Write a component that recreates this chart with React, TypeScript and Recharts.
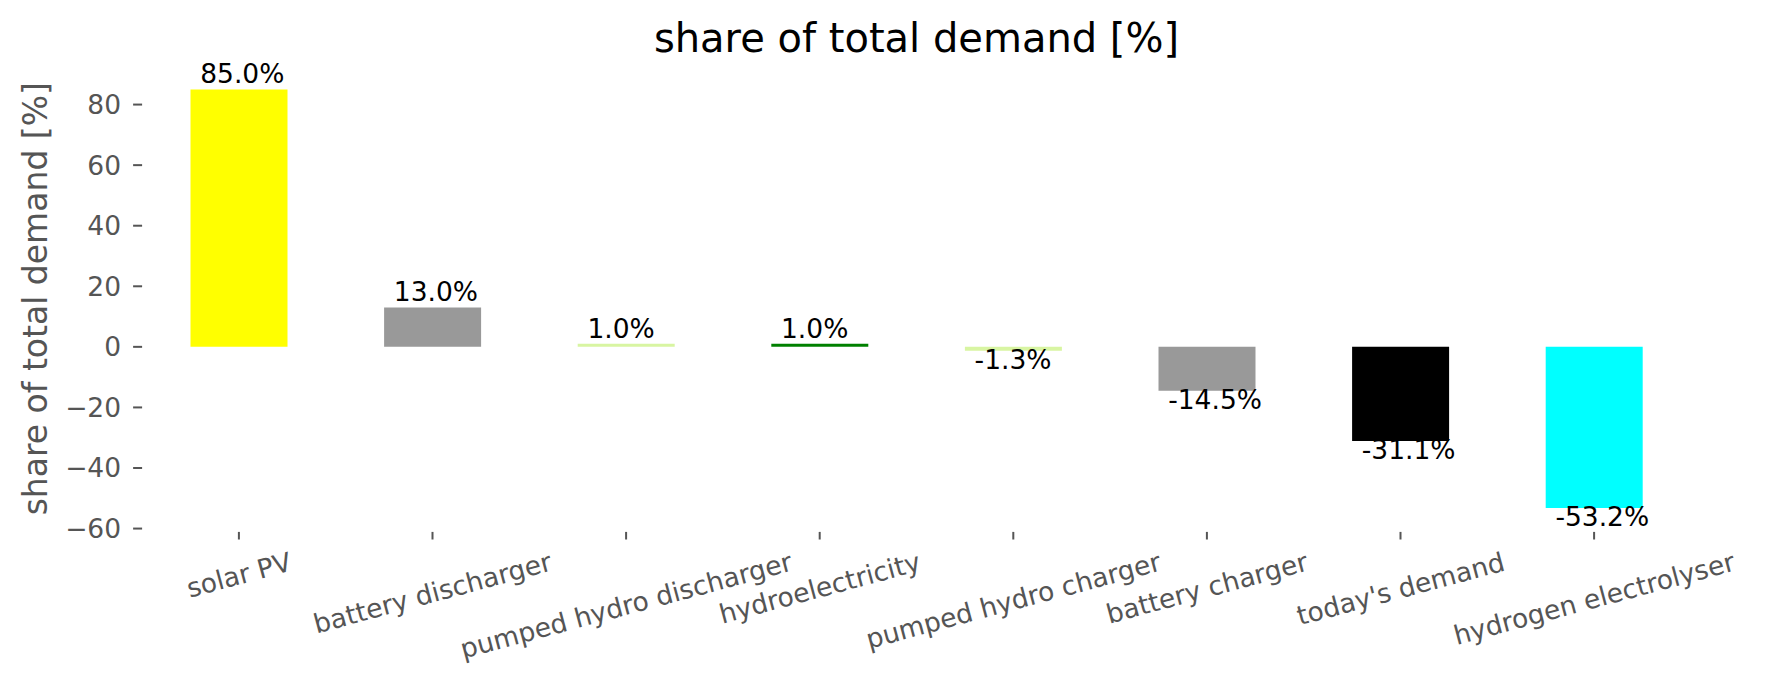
import { BarChart, Bar, XAxis, YAxis, Cell, LabelList } from "recharts";

const categories = [
  "solar PV",
  "battery discharger",
  "pumped hydro discharger",
  "hydroelectricity",
  "pumped hydro charger",
  "battery charger",
  "today's demand",
  "hydrogen electrolyser",
];
const shares = [85.0, 13.0, 1.0, 1.0, -1.3, -14.5, -31.1, -53.2];
const barColors = [
  "#ffff00",
  "#999999",
  "#d8f5a2",
  "#008000",
  "#d8f5a2",
  "#999999",
  "#000000",
  "#00ffff",
];
const yTicks = [-60, -40, -20, 0, 20, 40, 60, 80];

const FONT = '"DejaVu Sans", sans-serif';
const TICK_SIZE = 26.5;
const GREY = "#555555";

let measureCtx: CanvasRenderingContext2D | null = null;
function textWidth(text: string, size: number) {
  if (!measureCtx) measureCtx = document.createElement("canvas").getContext("2d");
  if (!measureCtx) return text.length * size * 0.6;
  measureCtx.font = `${size}px "DejaVu Sans"`;
  return measureCtx.measureText(text).width;
}

// matplotlib-style rotated label: rotated bbox centred on the tick, top a bit below the axis
function XTick(props: any) {
  const { x, y, payload } = props;
  const label = String(payload.value);
  const w = textWidth(label, TICK_SIZE);
  const a = (15 * Math.PI) / 180;
  const hr = w * Math.sin(a) + TICK_SIZE * 1.17 * Math.cos(a);
  const cy = y + 17 + hr / 2;
  return (
    <g>
      <line x1={x} x2={x} y1={y + 3} y2={y + 10.6} stroke={GREY} strokeWidth={2} />
      <text
        transform={`translate(${x},${cy}) rotate(-15)`}
        textAnchor="middle"
        dominantBaseline="central"
        fontSize={TICK_SIZE}
        fontFamily={FONT}
        fill={GREY}
      >
        {label}
      </text>
    </g>
  );
}

function ValueLabel(props: any) {
  const vb = props.viewBox ?? props;
  const { x, y, width, height } = vb;
  const v = Number(props.value);
  const top = Math.min(y, y + height);
  const bottom = Math.max(y, y + height);
  const ty = v >= 0 ? top - 6.3 : bottom + 18;
  return (
    <text x={x + width * 0.1} y={ty} fontSize={26.5} fontFamily={FONT} fill="#000">
      {`${v.toFixed(1)}%`}
    </text>
  );
}

export default function App() {
  const data = categories.map((name, i) => ({ name, share: shares[i] }));

  return (
    <div style={{ position: "absolute", left: 0, top: 0, width: 1765, height: 689, background: "#fff" }}>
      <BarChart
        width={1765}
        height={689}
        data={data}
        margin={{ top: 68.5, right: 74.1, bottom: 10.1, left: 42.1 }}
        barCategoryGap="25%"
        style={{ fontFamily: FONT }}
      >
        <XAxis
          dataKey="name"
          axisLine={false}
          tickLine={false}
          tickSize={0}
          tickMargin={0}
          height={150}
          interval={0}
          tick={XTick}
        />
        <YAxis
          type="number"
          domain={[-60.11, 91.91]}
          ticks={yTicks}
          allowDataOverflow
          axisLine={false}
          tickLine={{ stroke: GREY, strokeWidth: 2 }}
          tickSize={9}
          tickMargin={12}
          width={100}
          tick={{ fill: GREY, fontSize: TICK_SIZE, fontFamily: FONT }}
          tickFormatter={(v: number) => String(v).replace("-", "\u2212")}
        />
        <Bar dataKey="share" isAnimationActive={false}>
          {data.map((d, i) => (
            <Cell key={d.name} fill={barColors[i]} />
          ))}
          <LabelList dataKey="share" content={ValueLabel} />
        </Bar>
      </BarChart>
      <svg
        width={1765}
        height={689}
        style={{ position: "absolute", left: 0, top: 0, pointerEvents: "none" }}
      >
        <text x={916.5} y={51.7} textAnchor="middle" fontSize={40} fontFamily={FONT} fill="#000">
          share of total demand [%]
        </text>
        <text
          transform="translate(35,298.7) rotate(-90)"
          textAnchor="middle"
          dominantBaseline="central"
          fontSize={33}
          fontFamily={FONT}
          fill={GREY}
        >
          share of total demand [%]
        </text>
      </svg>
    </div>
  );
}
